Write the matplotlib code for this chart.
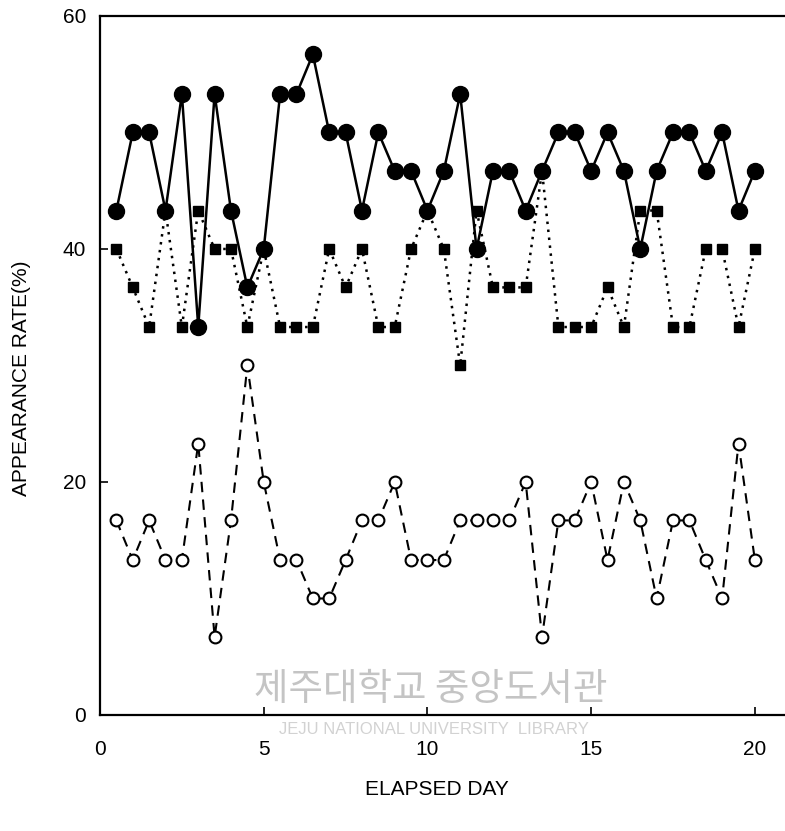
import matplotlib
matplotlib.use("Agg")
import matplotlib.pyplot as plt

# elapsed day (two readings per day)
days = [0.5, 1.0, 1.5, 2.0, 2.5, 3.0, 3.5, 4.0, 4.5, 5.0,
        5.5, 6.0, 6.5, 7.0, 7.5, 8.0, 8.5, 9.0, 9.5, 10.0,
        10.5, 11.0, 11.5, 12.0, 12.5, 13.0, 13.5, 14.0, 14.5, 15.0,
        15.5, 16.0, 16.5, 17.0, 17.5, 18.0, 18.5, 19.0, 19.5, 20.0]

# appearance rate (%) - filled circles, solid line
rate_a = [43.3, 50.0, 50.0, 43.3, 53.3, 33.3, 53.3, 43.3, 36.7, 40.0,
          53.3, 53.3, 56.7, 50.0, 50.0, 43.3, 50.0, 46.7, 46.7, 43.3,
          46.7, 53.3, 40.0, 46.7, 46.7, 43.3, 46.7, 50.0, 50.0, 46.7,
          50.0, 46.7, 40.0, 46.7, 50.0, 50.0, 46.7, 50.0, 43.3, 46.7]

# filled squares, dotted line
rate_b = [40.0, 36.7, 33.3, 43.3, 33.3, 43.3, 40.0, 40.0, 33.3, 40.0,
          33.3, 33.3, 33.3, 40.0, 36.7, 40.0, 33.3, 33.3, 40.0, 43.3,
          40.0, 30.0, 43.3, 36.7, 36.7, 36.7, 46.7, 33.3, 33.3, 33.3,
          36.7, 33.3, 43.3, 43.3, 33.3, 33.3, 40.0, 40.0, 33.3, 40.0]

# open circles, dashed line
rate_c = [16.7, 13.3, 16.7, 13.3, 13.3, 23.3, 6.7, 16.7, 30.0, 20.0,
          13.3, 13.3, 10.0, 10.0, 13.3, 16.7, 16.7, 20.0, 13.3, 13.3,
          13.3, 16.7, 16.7, 16.7, 16.7, 20.0, 6.7, 16.7, 16.7, 20.0,
          13.3, 20.0, 16.7, 10.0, 16.7, 16.7, 13.3, 10.0, 23.3, 13.3]

xticks = [0, 5, 10, 15, 20]
yticks = [0, 20, 40, 60]

plt.rcParams['font.family'] = ['Liberation Sans', 'DejaVu Sans']

fig = plt.figure(figsize=(7.85, 8.31), dpi=100)
ax = fig.add_axes([0.1274, 0.1396, 0.8726, 0.8412])

ax.plot(days, rate_b, color='black', linestyle=(0, (1, 2.2)), linewidth=1.8,
        marker='s', markersize=7.5, markerfacecolor='black', markeredgecolor='black',
        zorder=3)
ax.plot(days, rate_a, color='black', linestyle='-', linewidth=1.8,
        marker='o', markersize=11.5, markerfacecolor='black', markeredgecolor='black',
        zorder=4)
ax.plot(days, rate_c, color='black', linestyle=(0, (5, 3.5)), linewidth=1.5,
        marker='o', markersize=8.5, markerfacecolor='white', markeredgecolor='black',
        markeredgewidth=1.5, zorder=4)

ax.set_xlim(0, 20.92)
ax.set_ylim(0, 60)
ax.set_xticks(xticks)
ax.set_yticks(yticks)
ax.tick_params(direction='in', length=6, width=1.2, labelsize=15)
ax.tick_params(axis='x', pad=18)
ax.tick_params(axis='y', pad=10)

for side in ['left', 'bottom', 'top']:
    ax.spines[side].set_linewidth(1.6)
ax.spines['right'].set_visible(False)

fig.text(0.027, 0.545, 'APPEARANCE RATE(%)', rotation=90, ha='center', va='center',
         fontsize=15)
fig.text(0.557, 0.050, 'ELAPSED DAY', ha='center', va='center', fontsize=15)

# scan watermark
fig.text(0.549, 0.170, '제주대학교 중앙도서관', ha='center', va='center', fontsize=27,
         color='#c4c4c4', family=['Noto Sans CJK KR', 'DejaVu Sans'], zorder=0)
fig.text(0.553, 0.122, 'JEJU NATIONAL UNIVERSITY  LIBRARY', ha='center', va='center',
         fontsize=12, color='#d2d2d2', zorder=0)

fig.savefig('out.png', dpi=100)
